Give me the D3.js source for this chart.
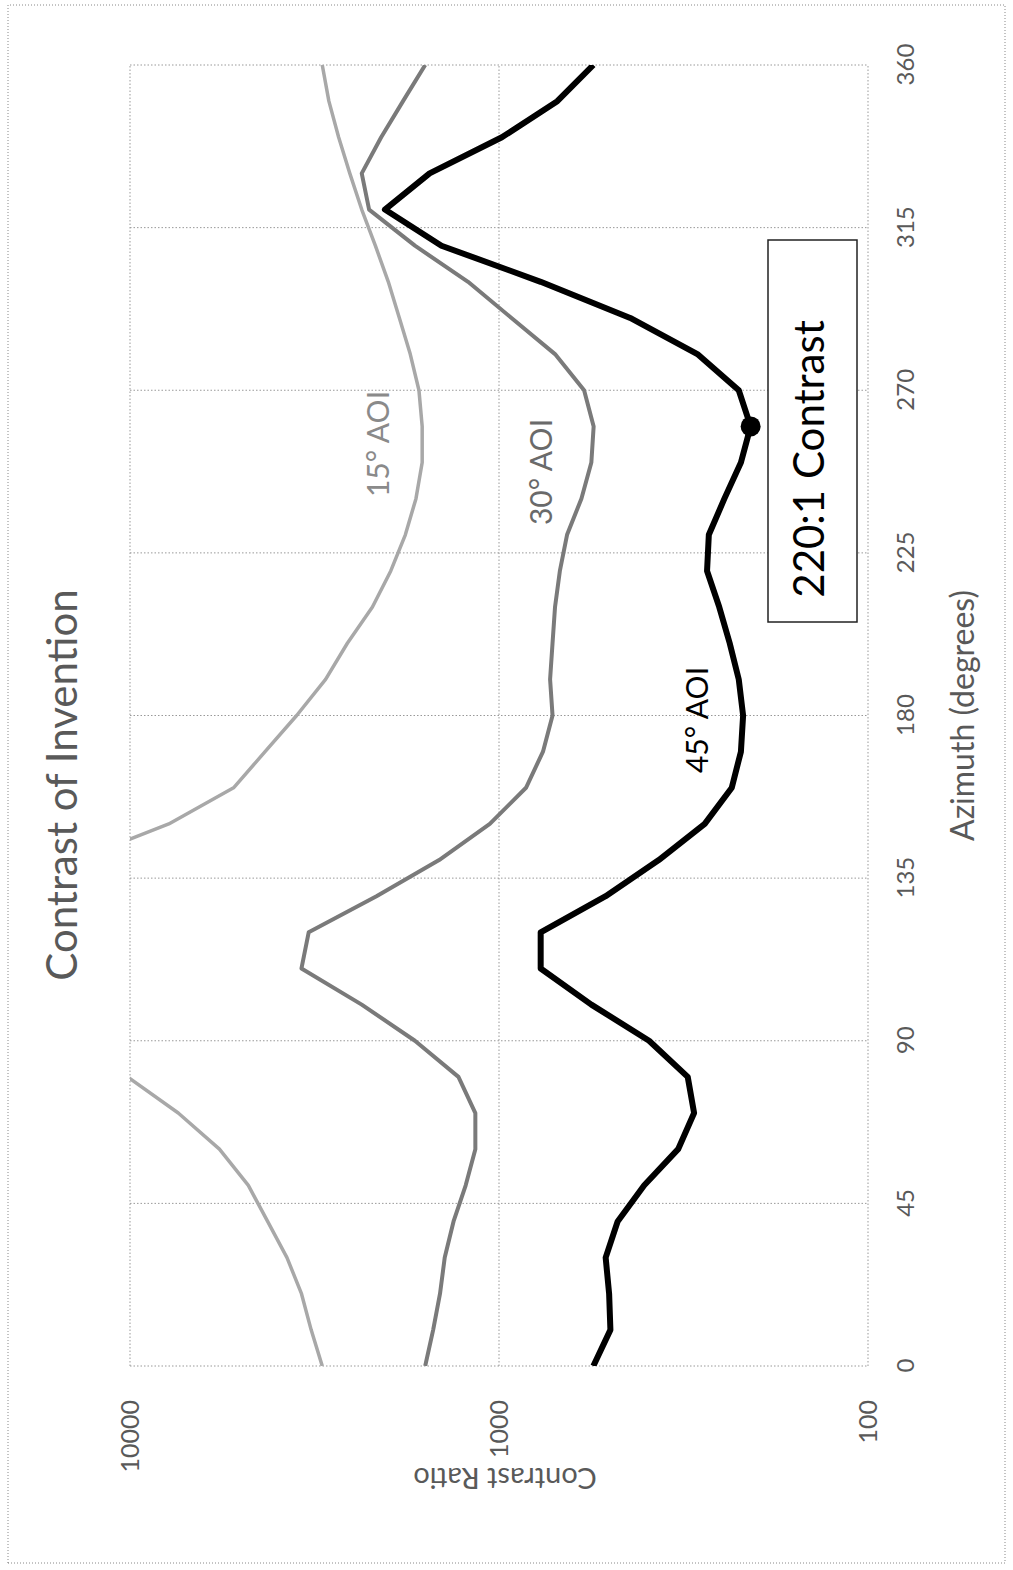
<!DOCTYPE html>
<html><head><meta charset="utf-8">
<script src="https://cdn.jsdelivr.net/npm/d3@7"></script>
<style>body{margin:0;background:#fff}</style>
</head><body>
<svg id="c" width="1013" height="1570"></svg>
<script>
// ---- data ----
const azimuths = [0,10,20,30,40,50,60,70,80,90,100,110,120,130,140,150,160,170,180,190,200,210,220,230,240,250,260,270,280,290,300,310,320,330,340,350,360];
const aoi15 = [3013,3229,3430,3755,4237,4779,5723,7400,10150,12500,14500,16000,16000,15000,14000,7850,5240,4305,3535,2951,2576,2203,1965,1794,1679,1615,1615,1648,1740,1862,1995,2163,2355,2537,2720,2891,3013];
const aoi30 = [1585,1508,1445,1403,1328,1231,1159,1159,1288,1690,2355,3430,3279,2148,1453,1059,845,760,716,727,716,705,684,654,598,562,554,588,705,925,1213,1690,2249,2355,2086,1820,1585];
const aoi45 = [555,499,503,514,477,404,327,296,308,392,562,771,771,514,369,277,234,221,218,224,237,253,273,270,245,221,208,224,290,441,771,1432,2038,1542,982,695,555];
const seriesNames = ["15° AOI","30° AOI","45° AOI"];
const xTicks = [0,45,90,135,180,225,270,315,360];
const yTicks = [100,1000,10000];
const markerAzimuth = 260;
const annotationText = "220:1 Contrast";
const titleText = "Contrast of Invention";
const xTitle = "Azimuth (degrees)";
const yTitle = "Contrast Ratio";

// ---- layout (local, unrotated coordinates) ----
const W = 1570, H = 1013;
const svg = d3.select("#c");
const g = svg.append("g").attr("transform", `translate(0,${W}) rotate(-90)`);
const FONT = "Lato, 'Open Sans', sans-serif";
const x = d3.scaleLinear().domain([0,360]).range([204,1505]);
const y = d3.scaleLog().domain([100,10000]).range([868,130]);

// outer chart border
g.append("rect").attr("x",7).attr("y",8).attr("width",1558).attr("height",997)
  .attr("fill","none").attr("stroke","#888").attr("stroke-width",1).attr("stroke-dasharray","1,2");

// gridlines
g.append("g").selectAll("line").data(xTicks).join("line")
  .attr("x1",d=>x(d)).attr("x2",d=>x(d)).attr("y1",y(10000)).attr("y2",y(100))
  .attr("stroke","#999").attr("stroke-width",1).attr("stroke-dasharray","1.5,2");
g.append("g").selectAll("line").data(yTicks).join("line")
  .attr("y1",d=>y(d)).attr("y2",d=>y(d)).attr("x1",x(0)).attr("x2",x(360))
  .attr("stroke","#999").attr("stroke-width",1).attr("stroke-dasharray","1.5,2");

// axes tick labels
const xAxis = d3.axisBottom(x).tickValues(xTicks).tickSize(0).tickPadding(29);
const xg = g.append("g").attr("transform",`translate(0,${y(100)})`).call(xAxis);
xg.select(".domain").remove();
xg.selectAll("text").attr("font-family",FONT).attr("font-size",24).attr("fill","#595959");

const yAxis = d3.axisLeft(y).tickValues(yTicks).tickFormat(d3.format("d")).tickSize(0).tickPadding(34);
const yg = g.append("g").attr("transform",`translate(${x(0)},0)`).call(yAxis);
yg.select(".domain").remove();
yg.selectAll("text").attr("font-family",FONT).attr("font-size",25).attr("fill","#595959");

// titles
g.append("text").attr("x",785).attr("y",77).attr("text-anchor","middle")
  .attr("font-family",FONT).attr("font-size",42).attr("fill","#595959").text(titleText);
g.append("text").attr("x",(x(0)+x(360))/2).attr("y",974).attr("text-anchor","middle")
  .attr("font-family",FONT).attr("font-size",32).attr("fill","#595959").text(xTitle);
g.append("text").attr("transform",`translate(102,${(y(100)+y(10000))/2 + 6}) rotate(-90)`).attr("text-anchor","middle")
  .attr("font-family",FONT).attr("font-size",29).attr("fill","#595959").text(yTitle);

// clip
g.append("clipPath").attr("id","plotclip").append("rect")
  .attr("x",x(0)).attr("y",y(10000)).attr("width",x(360)-x(0)).attr("height",y(100)-y(10000));

const line = d3.line().x(d=>x(d[0])).y(d=>y(d[1]));
const series = [
  {name:seriesNames[0], values:aoi15, color:"#a8a8a8", w:3.5},
  {name:seriesNames[1], values:aoi30, color:"#7a7a7a", w:4},
  {name:seriesNames[2], values:aoi45, color:"#000", w:6}
];
const lg = g.append("g").attr("clip-path","url(#plotclip)");
series.forEach(s=>{
  lg.append("path").datum(azimuths.map((a,i)=>[a,s.values[i]]))
    .attr("d",line).attr("fill","none").attr("stroke",s.color).attr("stroke-width",s.w)
    .attr("stroke-linejoin","round");
});

// series labels
const labelPos = [[1126,389,"#8a8a8a"],[1098,552,"#6a6a6a"],[850,708,"#000"]];
series.forEach((s,i)=>{
  g.append("text").attr("x",labelPos[i][0]).attr("y",labelPos[i][1]).attr("text-anchor","middle")
    .attr("font-family",FONT).attr("font-size",30).attr("fill",labelPos[i][2]).text(s.name);
});

// marker
const mi = azimuths.indexOf(markerAzimuth);
g.append("circle").attr("cx",x(markerAzimuth)).attr("cy",y(aoi45[mi])).attr("r",10).attr("fill","#000");

// annotation box
g.append("rect").attr("x",948).attr("y",768).attr("width",382).attr("height",89)
  .attr("fill","#fff").attr("stroke","#222").attr("stroke-width",1.5);
g.append("text").attr("x",1111).attr("y",824).attr("text-anchor","middle")
  .attr("font-family",FONT).attr("font-size",42).attr("fill","#000").text(annotationText);
</script>
</body></html>
